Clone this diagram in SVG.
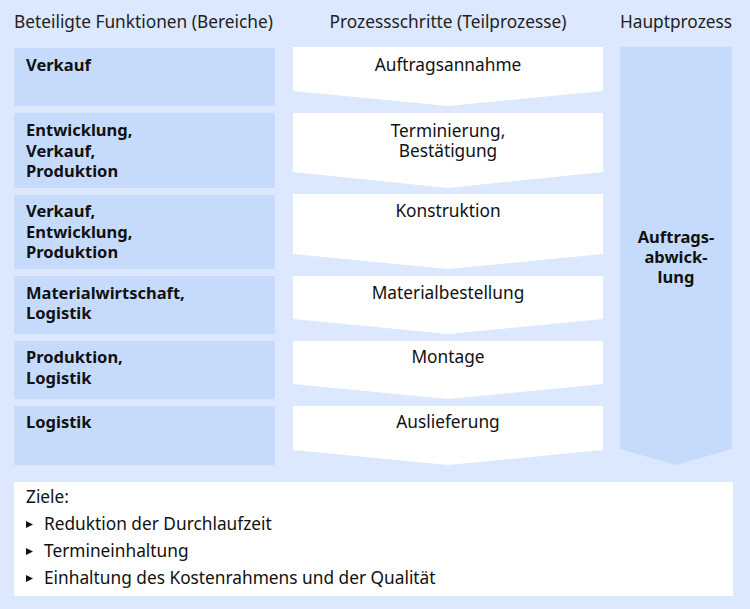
<svg xmlns="http://www.w3.org/2000/svg" width="750" height="609" viewBox="0 0 750 609">
<style>
text{font-family:"Noto Sans","Open Sans","Liberation Sans",sans-serif;font-size:17.3px;fill:#111}
.h{fill:#222}
.b{font-weight:bold;font-size:16.5px}
.m{text-anchor:middle}
.fn{fill:#c6dbfc}
.st{fill:#ffffff}
</style>
<rect x="0" y="0" width="750" height="609" fill="#dce8fd"/>
<g id="headers">
<text class="h" x="14" y="28">Beteiligte Funktionen (Bereiche)</text>
<text class="h m" x="448" y="28">Prozessschritte (Teilprozesse)</text>
<text class="h m" x="676" y="28">Hauptprozess</text>
</g>
<g id="f1"><rect class="fn" x="14" y="48" width="261" height="58"/><text class="b" x="26" y="71">Verkauf</text></g>
<g id="f2"><rect class="fn" x="14" y="113" width="261" height="75"/><text class="b" x="26" y="136">Entwicklung,</text><text class="b" x="26" y="157">Verkauf,</text><text class="b" x="26" y="177">Produktion</text></g>
<g id="f3"><rect class="fn" x="14" y="195" width="261" height="74"/><text class="b" x="26" y="217">Verkauf,</text><text class="b" x="26" y="238">Entwicklung,</text><text class="b" x="26" y="258">Produktion</text></g>
<g id="f4"><rect class="fn" x="14" y="276" width="261" height="58"/><text class="b" x="26" y="299">Materialwirtschaft,</text><text class="b" x="26" y="319">Logistik</text></g>
<g id="f5"><rect class="fn" x="14" y="341" width="261" height="58"/><text class="b" x="26" y="363">Produktion,</text><text class="b" x="26" y="384">Logistik</text></g>
<g id="f6"><rect class="fn" x="14" y="406" width="261" height="59"/><text class="b" x="26" y="428">Logistik</text></g>
<g id="s1"><polygon class="st" points="293,47 603,47 603,91 448,106 293,91"/><text class="m" x="448" y="71">Auftragsannahme</text></g>
<g id="s2"><polygon class="st" points="293,113 603,113 603,172 448,188 293,172"/><text class="m" x="448" y="137">Terminierung,</text><text class="m" x="448" y="157">Bestätigung</text></g>
<g id="s3"><polygon class="st" points="293,194 603,194 603,254 448,269 293,254"/><text class="m" x="448" y="217">Konstruktion</text></g>
<g id="s4"><polygon class="st" points="293,276 603,276 603,319 448,334 293,319"/><text class="m" x="448" y="299">Materialbestellung</text></g>
<g id="s5"><polygon class="st" points="293,341 603,341 603,384 448,399 293,384"/><text class="m" x="448" y="363">Montage</text></g>
<g id="s6"><polygon class="st" points="293,406 603,406 603,450 448,465 293,450"/><text class="m" x="448" y="428">Auslieferung</text></g>
<g id="main"><polygon class="fn" points="620,47 732,47 732,449 676,465 620,449"/><text class="b m" x="676" y="243">Auftrags-</text><text class="b m" x="676" y="263">abwick-</text><text class="b m" x="676" y="283">lung</text></g>
<g id="connectors"></g>
<g id="goals">
<rect x="14" y="482" width="719" height="114" fill="#ffffff"/>
<text x="26" y="503">Ziele:</text>
<polygon points="26,521 33,524.5 26,528" fill="#111"/>
<text x="44" y="530">Reduktion der Durchlaufzeit</text>
<polygon points="26,548 33,551.5 26,555" fill="#111"/>
<text x="44" y="557">Termineinhaltung</text>
<polygon points="26,575 33,578.5 26,582" fill="#111"/>
<text x="44" y="584">Einhaltung des Kostenrahmens und der Qualität</text>
</g>
</svg>
